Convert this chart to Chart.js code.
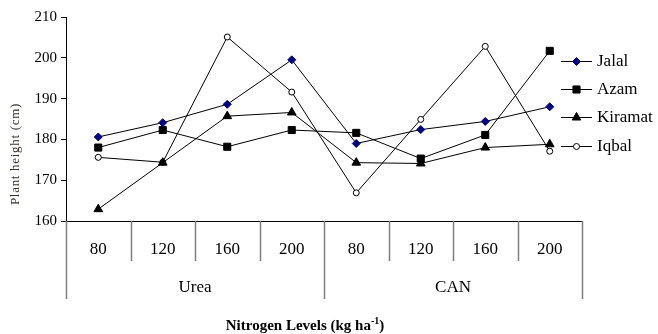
<!DOCTYPE html>
<html>
<head>
<meta charset="utf-8">
<script src="https://cdn.jsdelivr.net/npm/chart.js@4.4.1/dist/chart.umd.min.js"></script>
<style>
  body { margin: 0; background: #fff; }
  #wrap { width: 658px; height: 334px; }
</style>
</head>
<body>
<div id="wrap"><canvas id="plantChart" width="658" height="334"></canvas></div>
<script>
// nitrogen levels, repeated for each fertilizer source
var NITROGEN_LEVELS = ['80', '120', '160', '200', '80', '120', '160', '200'];
var SOURCES = ['Urea', 'CAN'];
var Y_TICKS = [160, 170, 180, 190, 200, 210];

// plant height (cm) per variety
var JALAL   = [180.6, 184.1, 188.6, 199.5, 179.0, 182.4, 184.4, 188.0];
var AZAM    = [178.0, 182.3, 178.2, 182.3, 181.6, 175.3, 181.1, 201.7];
var KIRAMAT = [162.9, 174.3, 185.7, 186.6, 174.3, 174.1, 178.0, 178.8];
var IQBAL   = [175.6, 174.4, 205.1, 191.6, 166.9, 184.9, 202.8, 177.1];

var SERIF = "'Liberation Serif', 'Times New Roman', serif";

function series(label, data, style, radius, fill) {
    return {
        label: label,
        data: data,
        borderColor: '#000',
        borderWidth: 1,
        pointStyle: style,
        pointRadius: radius,
        pointHoverRadius: radius,
        pointBackgroundColor: fill,
        pointBorderColor: style == 'circle' ? '#000' : fill,
        pointBorderWidth: 1,
        tension: 0,
        clip: false
    };
}

// draws the table under the x axis, group names, axis titles and the legend
var tablePlugin = {
    id: 'tablePlugin',
    afterDraw(chart) {
        var ctx = chart.ctx;
        var xs = chart.scales.x;
        var ys = chart.scales.y;
        var area = chart.chartArea;
        var n = NITROGEN_LEVELS.length;
        var half = n / SOURCES.length;
        ctx.save();
        ctx.strokeStyle = '#7f7f7f';
        ctx.lineWidth = 1.5;
        for (var i = 0; i <= n; i++) {
            var x;
            if (i == 0) x = area.left;
            else if (i == n) x = area.right;
            else x = (xs.getPixelForValue(i - 1) + xs.getPixelForValue(i)) / 2;
            var outer = (i % half == 0);
            ctx.beginPath();
            ctx.moveTo(Math.round(x) + 0.5, area.bottom);
            ctx.lineTo(Math.round(x) + 0.5, area.bottom + (outer ? 78 : 40));
            ctx.stroke();
        }
        // group labels
        ctx.fillStyle = '#000';
        ctx.font = '17px ' + SERIF;
        ctx.textAlign = 'center';
        ctx.textBaseline = 'middle';
        SOURCES.forEach(function (name, g) {
            var x0 = xs.getPixelForValue(g * half);
            var x1 = xs.getPixelForValue(g * half + half - 1);
            ctx.fillText(name, (x0 + x1) / 2, area.bottom + 67);
        });
        // x axis title with superscript
        var main = 'Nitrogen Levels (kg ha';
        var sup = '-1';
        var tail = ')';
        ctx.font = 'bold 15px ' + SERIF;
        var w1 = ctx.measureText(main).width;
        var w3 = ctx.measureText(tail).width;
        ctx.font = 'bold 10px ' + SERIF;
        var w2 = ctx.measureText(sup).width;
        var tx = 305 - (w1 + w2 + w3) / 2;
        var ty = 330;
        ctx.textAlign = 'left';
        ctx.textBaseline = 'alphabetic';
        ctx.font = 'bold 15px ' + SERIF;
        ctx.fillText(main, tx, ty);
        ctx.font = 'bold 10px ' + SERIF;
        ctx.fillText(sup, tx + w1, ty - 6);
        ctx.font = 'bold 15px ' + SERIF;
        ctx.fillText(tail, tx + w1 + w2, ty);

        // y axis title
        ctx.save();
        ctx.translate(16, 154);
        ctx.rotate(-Math.PI / 2);
        ctx.fillStyle = '#3a3028';
        ctx.font = '13px ' + SERIF;
        ctx.letterSpacing = '0.7px';
        ctx.textAlign = 'center';
        ctx.textBaseline = 'middle';
        ctx.fillText('Plant height (cm)', 0, 0);
        ctx.restore();

        // legend
        var ly = [61, 89, 117, 146];
        chart.data.datasets.forEach(function (ds, k) {
            var y = ly[k];
            ctx.strokeStyle = '#000';
            ctx.lineWidth = 1;
            ctx.beginPath();
            ctx.moveTo(561, y + 0.5);
            ctx.lineTo(592, y + 0.5);
            ctx.stroke();
            ctx.fillStyle = ds.pointBackgroundColor;
            ctx.strokeStyle = ds.pointBorderColor;
            Chart.helpers.drawPoint(ctx, {
                pointStyle: ds.pointStyle,
                radius: ds.pointRadius,
                rotation: 0,
                borderWidth: 1
            }, 576.5, y + 0.5);
            ctx.fillStyle = '#000';
            ctx.font = '17px ' + SERIF;
            ctx.textAlign = 'left';
            ctx.textBaseline = 'middle';
            ctx.fillText(ds.label, 597, y + 1);
        });
        ctx.restore();
    }
};

new Chart(document.getElementById('plantChart'), {
    type: 'line',
    data: {
        labels: NITROGEN_LEVELS,
        datasets: [
            series('Jalal', JALAL, 'rectRot', 4, '#000080'),
            series('Azam', AZAM, 'rect', 5, '#000'),
            series('Kiramat', KIRAMAT, 'triangle', 5, '#000'),
            series('Iqbal', IQBAL, 'circle', 3, '#fff')
        ]
    },
    options: {
        responsive: false,
        animation: false,
        layout: { padding: { left: 0, right: 76, top: 17, bottom: 0 } },
        plugins: {
            legend: { display: false },
            tooltip: { enabled: false }
        },
        scales: {
            x: {
                type: 'category',
                offset: true,
                afterFit: function (s) { s.height = 113; },
                grid: { display: false, drawTicks: false },
                border: { display: true, color: '#000', width: 1 },
                ticks: { color: '#000', font: { family: SERIF, size: 17 }, padding: 18, maxRotation: 0, autoSkip: false }
            },
            y: {
                min: 160,
                max: 210,
                afterFit: function (s) { s.width = 66; },
                afterBuildTicks: function (s) { s.ticks = Y_TICKS.map(function (v) { return { value: v }; }); },
                grid: { drawOnChartArea: false, drawTicks: true, tickLength: 5, color: '#000' },
                border: { display: true, color: '#000', width: 1 },
                ticks: { color: '#000', font: { family: SERIF, size: 15 }, padding: 4 }
            }
        }
    },
    plugins: [tablePlugin]
});
</script>
</body>
</html>
